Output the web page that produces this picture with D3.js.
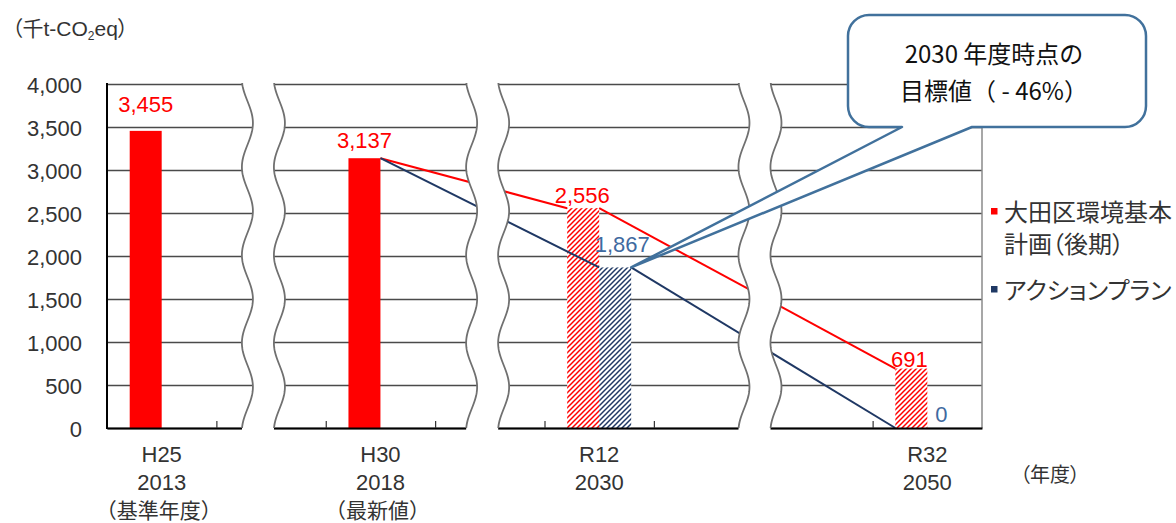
<!DOCTYPE html>
<html>
<head>
<meta charset="utf-8">
<script src="https://cdn.jsdelivr.net/npm/d3@7"></script>
<style>
  html, body { margin: 0; padding: 0; background: #fff; }
  svg { display: block; font-family: "Liberation Sans", "Noto Sans CJK JP", sans-serif; font-feature-settings: "palt"; }
  .cjk { font-family: "Noto Sans CJK JP", sans-serif; }
</style>
</head>
<body>
<svg id="chart" width="1176" height="523"></svg>
<script>
// ---- data -------------------------------------------------------------
// x-axis slots (the unlabeled slots sit around the axis breaks)
const slots      = ["s1", "s2", "s3", "s4", "s5", "s6", "s7", "s8"];
const eraLabels  = ["H25", "", "H30", "", "R12", "", "", "R32"];
const yearLabels = ["2013", "", "2018", "", "2030", "", "", "2050"];
const noteLabels = ["（基準年度）", "", "（最新値）", "", "", "", "", ""];

const seriesKeys  = ["plan", "action"];
const seriesNames = ["大田区環境基本計画（後期）", "アクションプラン"];

// emissions (千t-CO2eq)
const planBars   = [3455, null, 3137, null, 2556, null, null, 691];
const actionBars = [null, null, null, null, 1867, null, null, 0];

// reduction paths from the latest value toward each target
const planPath   = [null, null, 3137, null, 2556, null, null, 691];
const actionPath = [null, null, 3137, null, 1867, null, null, 0];

const yTicks = [0, 500, 1000, 1500, 2000, 2500, 3000, 3500, 4000];
const latestYear = 2018;           // later years are targets (hatched)
const calloutLines = ["2030 年度時点の", "目標値（ - 46%）"];

// ---- layout -----------------------------------------------------------
const plot = { left: 107, right: 982, top: 84, bottom: 428 };
const RED = "#FF0000", NAVY = "#1F3864", LABEL_BLUE = "#3F6AA0", INK = "#333";

const svg = d3.select("#chart");
const defs = svg.append("defs");

const x  = d3.scaleBand().domain(slots).range([plot.left, plot.right]).padding(0);
const xs = d3.scaleBand().domain(seriesKeys).range([0, x.bandwidth()])
             .paddingInner(0).paddingOuter(0.71);
const xEdge = d3.scaleLinear().domain([0, slots.length]).range([plot.left, plot.right]);
const y  = d3.scaleLinear().domain([0, 4000]).range([plot.bottom, plot.top]);

const barsBySeries  = { plan: planBars, action: actionBars };
const pathBySeries  = { plan: planPath, action: actionPath };
const solidColor    = { plan: RED, action: NAVY };
const labelColor    = { plan: RED, action: LABEL_BLUE };

// diagonal hatching for target bars
function hatch(id, color) {
  const p = defs.append("pattern").attr("id", id)
    .attr("patternUnits", "userSpaceOnUse").attr("width", 5).attr("height", 5);
  p.append("rect").attr("width", 5).attr("height", 5).attr("fill", "#fff");
  p.append("path").attr("d", "M-1,1 l2,-2 M0,5 l5,-5 M4,6 l2,-2")
    .attr("stroke", color).attr("stroke-width", 1.5);
}
hatch("hatch-plan", RED);
hatch("hatch-action", NAVY);

// ---- gridlines + y labels --------------------------------------------
const yAxis = svg.append("g").attr("transform", `translate(${plot.left},0)`)
  .call(d3.axisLeft(y).tickValues(yTicks).tickFormat(d3.format(","))
          .tickSize(-(plot.right - plot.left)).tickPadding(25));
yAxis.select(".domain").remove();
yAxis.selectAll(".tick line").attr("stroke", "#4a4a4a").attr("stroke-width", 1.4);
yAxis.selectAll(".tick text").attr("fill", INK).attr("font-size", 22)
  .attr("font-family", null).attr("dy", "0.38em");

// ---- bars -------------------------------------------------------------
const barData = [];
seriesKeys.forEach(k => barsBySeries[k].forEach((v, i) => {
  if (v !== null) barData.push({ key: k, i, v, target: +yearLabels[i] > latestYear });
}));

svg.append("g").selectAll("rect").data(barData).join("rect")
  .attr("x", d => x(slots[d.i]) + xs(d.key))
  .attr("width", xs.bandwidth())
  .attr("y", d => y(d.v))
  .attr("height", d => y(0) - y(d.v))
  .attr("fill", d => d.target ? `url(#hatch-${d.key})` : solidColor[d.key]);

// ---- reduction paths --------------------------------------------------
// each leg leaves from the right edge of a bar and arrives at the left edge of the next
function legs(key) {
  const pts = pathBySeries[key].map((v, i) => ({ v, i })).filter(d => d.v !== null);
  const out = [];
  for (let n = 0; n < pts.length - 1; n++) {
    const a = pts[n], b = pts[n + 1];
    const xa = n === 0 ? x(slots[a.i]) + x.bandwidth() / 2
                       : x(slots[a.i]) + xs(key) + xs.bandwidth();
    const xb = n + 1 === pts.length - 1 ? x(slots[b.i]) + xs(seriesKeys[0])
                                        : x(slots[b.i]) + xs(key);
    out.push([[xa, y(a.v)], [xb, y(b.v)]]);
  }
  return out;
}
const line = d3.line();
seriesKeys.forEach(k => {
  svg.append("g").selectAll("path").data(legs(k)).join("path")
    .attr("d", line).attr("fill", "none")
    .attr("stroke", solidColor[k]).attr("stroke-width", 2);
});

// ---- axes frame -------------------------------------------------------
svg.append("line").attr("x1", plot.right).attr("x2", plot.right)
  .attr("y1", plot.top).attr("y2", plot.bottom)
  .attr("stroke", "#8a8a8a").attr("stroke-width", 1.5);

const xAxis = svg.append("g").attr("transform", `translate(0,${plot.bottom})`)
  .call(d3.axisBottom(xEdge).tickValues(d3.range(1, slots.length))
          .tickSize(-7).tickSizeOuter(0).tickFormat(""));
xAxis.select(".domain").attr("stroke", "#000").attr("stroke-width", 2);
xAxis.selectAll(".tick line").attr("stroke", "#333").attr("stroke-width", 1.2);

svg.append("line").attr("x1", plot.left).attr("x2", plot.left)
  .attr("y1", plot.top - 1).attr("y2", plot.bottom + 1)
  .attr("stroke", "#000").attr("stroke-width", 2);

// ---- axis breaks ------------------------------------------------------
const breakAt = [1.43, 3.48, 5.97];   // in slot widths from the plot's left edge
const waveAmp = 5.5, wavePeriod = 88, halfGap = 16;
function waveX(cx, side, yy) {
  return cx + side * halfGap + waveAmp * Math.sin(2 * Math.PI * (yy - 101) / wavePeriod);
}
const breaks = svg.append("g");
breakAt.forEach(b => {
  const cx = xEdge(b);
  const ys = d3.range(plot.top - 2, plot.bottom + 2.01, 1);
  const band = ys.map(v => [waveX(cx, -1, v), v])
    .concat(ys.slice().reverse().map(v => [waveX(cx, 1, v), v]));
  breaks.append("path").attr("d", d3.line()(band) + "Z").attr("fill", "#fff");
  const ys2 = d3.range(plot.top - 1, plot.bottom + 0.01, 1);
  [-1, 1].forEach(side => {
    breaks.append("path")
      .attr("d", d3.line()(ys2.map(v => [waveX(cx, side, v), v])))
      .attr("fill", "none").attr("stroke", "#707070").attr("stroke-width", 1.8);
  });
});

// ---- value labels -----------------------------------------------------
const labelRise = { "plan:0": [0, 27], "plan:2": [0, 18], "plan:4": [-1, 13], "plan:7": [-2, 9],
                    "action:4": [7, 23], "action:7": [-2, 14] };
svg.append("g").selectAll("text").data(barData).join("text")
  .attr("x", d => x(slots[d.i]) + xs(d.key) + xs.bandwidth() / 2 + labelRise[`${d.key}:${d.i}`][0])
  .attr("y", d => y(d.v) - labelRise[`${d.key}:${d.i}`][1])
  .attr("dy", "0.36em")
  .attr("text-anchor", "middle").attr("font-size", 22)
  .attr("fill", d => labelColor[d.key])
  .text(d => d3.format(",")(d.v));

// ---- category labels --------------------------------------------------
const catG = svg.append("g").attr("fill", INK).attr("text-anchor", "middle");
slots.forEach((s, i) => {
  const cx = x(s) + x.bandwidth() / 2;
  if (eraLabels[i]) catG.append("text").attr("x", cx).attr("y", 454).attr("dy", "0.36em")
    .attr("font-size", 22).text(eraLabels[i]);
  if (yearLabels[i]) catG.append("text").attr("x", cx).attr("y", 482).attr("dy", "0.36em")
    .attr("font-size", 22).text(yearLabels[i]);
  if (noteLabels[i]) catG.append("text").attr("class", "cjk").attr("x", cx - 3).attr("y", 510)
    .attr("dy", "0.36em").attr("font-size", 21)
    .style("font-feature-settings", "normal").text(noteLabels[i]);
});

svg.append("text").attr("class", "cjk").attr("x", 1050).attr("y", 475).attr("dy", "0.36em")
  .attr("text-anchor", "middle").attr("font-size", 20).attr("fill", INK).text("（年度）");

// unit label
const unit = svg.append("text").attr("x", 12).attr("y", 28).attr("dy", "0.36em")
  .attr("font-size", 21).attr("fill", INK);
unit.append("tspan").text("（千t-CO");
unit.append("tspan").attr("font-size", 12).attr("dy", 4).text("2");
unit.append("tspan").attr("dy", -4).text("eq）");

// ---- legend -----------------------------------------------------------
const legendRows = [
  { key: "plan",   lines: [seriesNames[0].slice(0, 7), seriesNames[0].slice(7)], y: 212 },
  { key: "action", lines: [seriesNames[1]], y: 290 }
];
const lg = svg.append("g");
legendRows.forEach(r => {
  lg.append("rect").attr("x", 991).attr("y", r.y - 4).attr("width", 6.5).attr("height", 6.5)
    .attr("fill", solidColor[r.key]);
  r.lines.forEach((t, j) => {
    lg.append("text").attr("class", "cjk").attr("x", 1004).attr("y", r.y + j * 32).attr("dy", "0.36em")
      .attr("font-size", 24).attr("fill", INK).text(t);
  });
});

// ---- callout ----------------------------------------------------------
const box = { x0: 848, y0: 15, x1: 1146, y1: 127, r: 21, base0: 902, base1: 972 };
const tip = [x(slots[4]) + xs("action") + xs.bandwidth(), y(actionBars[4])];
const cp = d3.path();
cp.moveTo(box.x0 + box.r, box.y0);
cp.lineTo(box.x1 - box.r, box.y0);
cp.arcTo(box.x1, box.y0, box.x1, box.y0 + box.r, box.r);
cp.lineTo(box.x1, box.y1 - box.r);
cp.arcTo(box.x1, box.y1, box.x1 - box.r, box.y1, box.r);
cp.lineTo(box.base1, box.y1);
cp.lineTo(tip[0], tip[1]);
cp.lineTo(box.base0, box.y1);
cp.lineTo(box.x0 + box.r, box.y1);
cp.arcTo(box.x0, box.y1, box.x0, box.y1 - box.r, box.r);
cp.lineTo(box.x0, box.y0 + box.r);
cp.arcTo(box.x0, box.y0, box.x0 + box.r, box.y0, box.r);
cp.closePath();
svg.append("path").attr("d", cp.toString()).attr("fill", "#fff")
  .attr("stroke", "#41719C").attr("stroke-width", 2.5).attr("stroke-linejoin", "round");

calloutLines.forEach((t, j) => {
  svg.append("text").attr("class", "cjk").attr("x", 994).attr("y", 54 + j * 37).attr("dy", "0.36em")
    .attr("text-anchor", "middle").attr("font-size", 24).attr("fill", "#111")
    .style("font-feature-settings", "normal")
    .text(t);
});
</script>
</body>
</html>
